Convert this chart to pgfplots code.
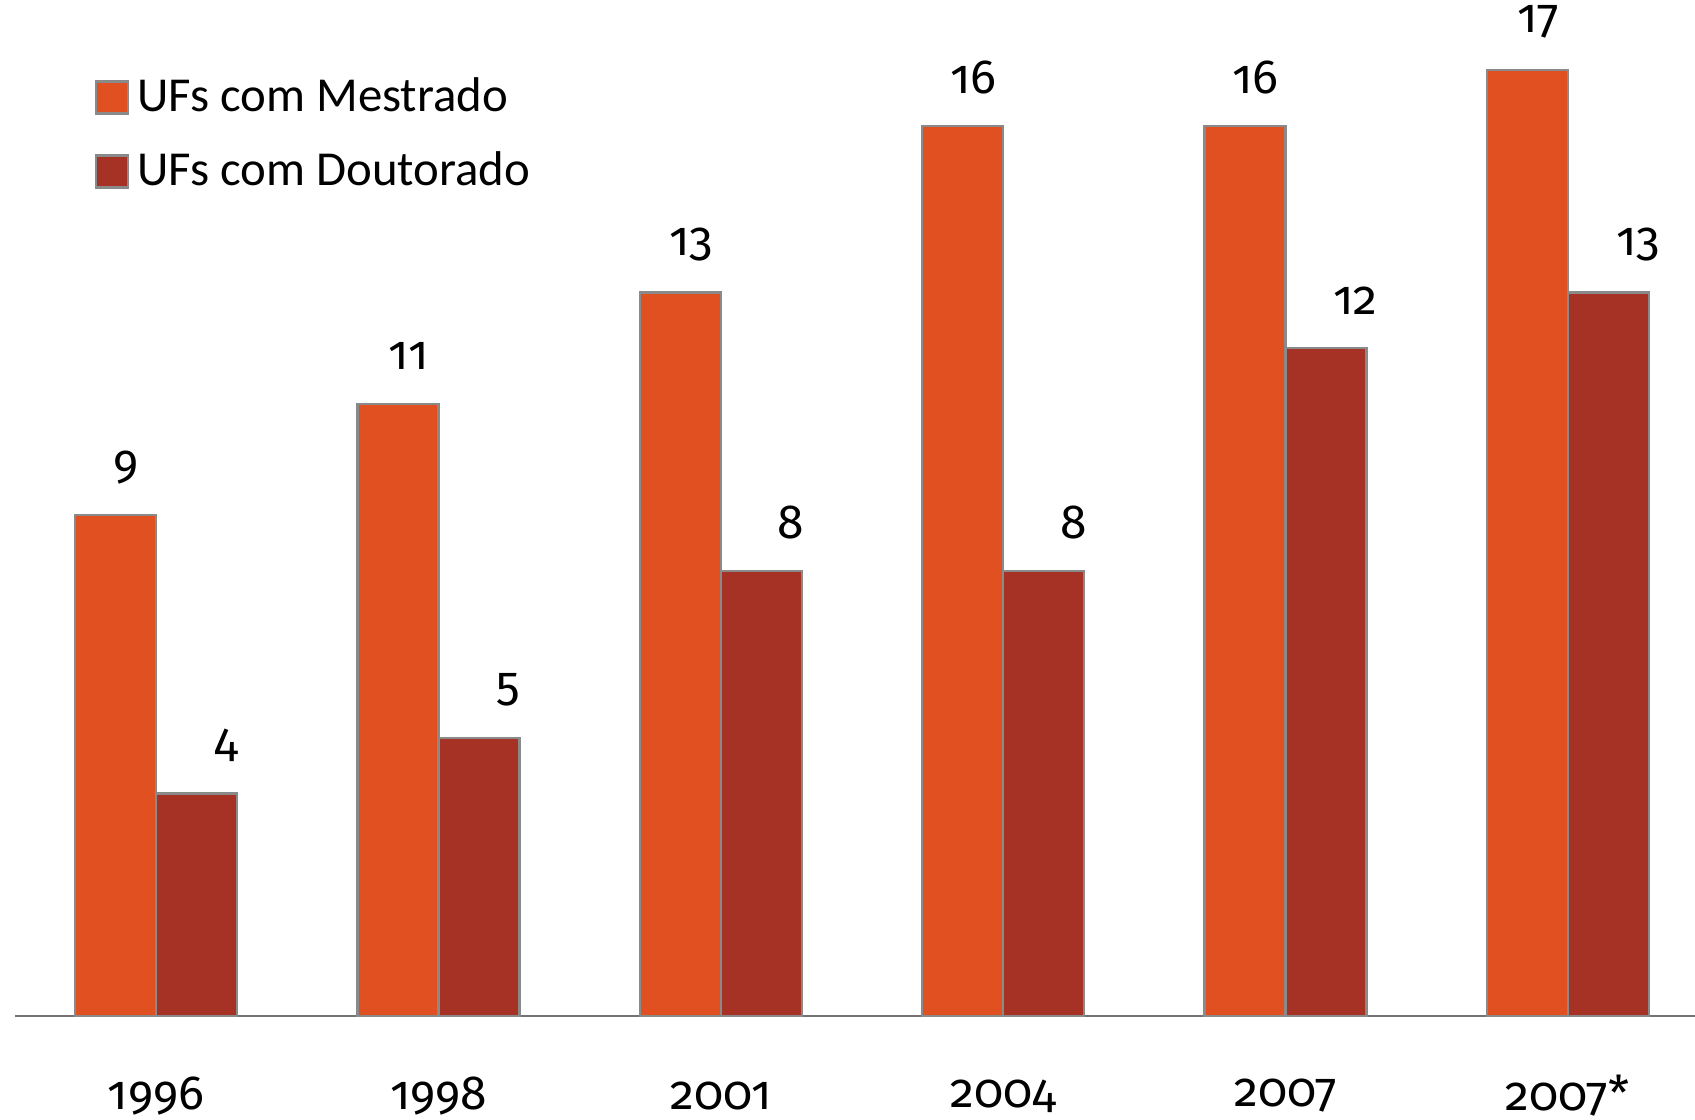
\documentclass[border=0pt]{standalone}
\usepackage{fontspec}
\setmainfont{Carlito}
\newfontfamily\numfont[Numbers=OldStyle]{Fira Sans}
\usepackage{pgfplots}
\pgfplotsset{compat=1.18}
\definecolor{mest}{HTML}{E05020}
\definecolor{dout}{HTML}{A63226}
\definecolor{edge}{HTML}{8A8A8A}
\begin{document}
\begin{tikzpicture}
\begin{axis}[
  scale only axis,
  width=420pt, height=254pt,
  xmin=-0.5, xmax=5.45,
  ymin=0, ymax=18.26,
  axis x line=bottom,
  axis y line=none,
  x axis line style={draw=black!55, line width=0.6pt, -},
  xtick={0,1,2,3,4,5},
  xticklabels={1996,1998,2001,2004,2007,2007*},
  major tick length=0pt,
  xticklabel style={anchor=center, yshift=-20pt, font=\numfont\fontsize{12}{14}\selectfont},
  ytick=\empty,
  font=\fontsize{12}{14}\selectfont,
  /pgf/number format/assume math mode=true,
  clip=false,
  legend style={draw=none, fill=none, at={(0.04,0.94)}, anchor=north west,
    font=\fontsize{12.2}{14}\selectfont, row sep=4.5pt,
    legend cell align=left},
  legend image code/.code={\draw[#1] (0pt,-4pt) rectangle (8pt,4pt);},
  nodes near coords,
  every node near coord/.append style={font=\numfont\fontsize{12}{14}\selectfont, anchor=center, yshift=12pt},
]
\addplot[ybar, bar width=0.287, bar shift=-0.1435, fill=mest, draw=edge, line width=0.6pt,
  every node near coord/.append style={xshift=-7.5pt}]
  coordinates {(0,9) (1,11) (2,13) (3,16) (4,16) (5,17)};
\addlegendentry{UFs com Mestrado}
\addplot[ybar, bar width=0.287, bar shift=0.1435, fill=dout, draw=edge, line width=0.6pt,
  every node near coord/.append style={xshift=17.5pt}]
  coordinates {(0,4) (1,5) (2,8) (3,8) (4,12) (5,13)};
\addlegendentry{UFs com Doutorado}
\coordinate (bl) at (rel axis cs:0,0);
\coordinate (tr) at (rel axis cs:1,1);
\end{axis}
\pgfresetboundingbox
\path (bl) ++(-3.75pt,-26pt) rectangle (tr);
\end{tikzpicture}
\end{document}
